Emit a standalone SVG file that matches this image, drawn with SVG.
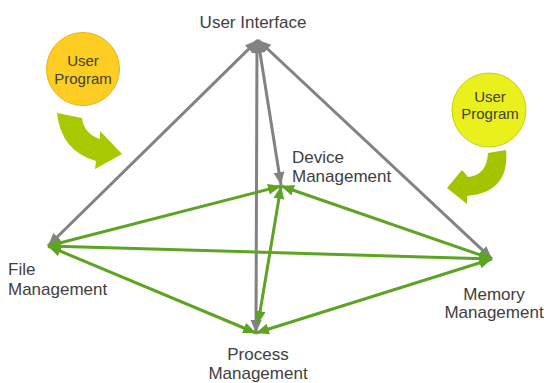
<svg xmlns="http://www.w3.org/2000/svg" width="548" height="383" viewBox="0 0 548 383">
  <style>
    .lbl { font-family: "Liberation Sans", Arial, sans-serif; font-size: 17px; fill: #404040; }
    .clbl { font-family: "Liberation Sans", Arial, sans-serif; font-size: 15px; fill: #404040; text-anchor: middle; }
    .gray { stroke: #828282; stroke-width: 3; fill: none; marker-start: url(#ag); marker-end: url(#ag); }
    .green { stroke: #5da423; stroke-width: 3; fill: none; marker-start: url(#an); marker-end: url(#an); }
  </style>
  <defs>
    <marker id="ag" markerUnits="userSpaceOnUse" markerWidth="14" markerHeight="12" refX="13" refY="5.5" orient="auto-start-reverse">
      <path d="M0,0 L13,5.5 L0,11 Z" fill="#828282"/>
    </marker>
    <marker id="an" markerUnits="userSpaceOnUse" markerWidth="14" markerHeight="12" refX="13" refY="5.5" orient="auto-start-reverse">
      <path d="M0,0 L13,5.5 L0,11 Z" fill="#5da423"/>
    </marker>
  </defs>

  <rect width="548" height="383" fill="#ffffff"/>

  <!-- user programs feeding in -->
  <g id="user-program-left">
    <circle cx="83" cy="69" r="36.5" fill="#fdcd23" stroke="#e8b410" stroke-width="1"/>
    <text class="clbl" x="83" y="66">User</text>
    <text class="clbl" x="83" y="84">Program</text>
    <path d="M57,113 L82,118 Q84,134 100,139 L100,131 L122,154 L95,169 L96,161 Q61,151 57,113 Z" fill="#a8c800"/>
  </g>
  <g id="user-program-right">
    <circle cx="489" cy="110" r="37" fill="#e9f01c" stroke="#c8d010" stroke-width="1"/>
    <text class="clbl" x="490" y="102">User</text>
    <text class="clbl" x="490" y="119">Program</text>
    <path d="M488,153 L506,150 Q510,192 467,196 L467,204 L447,188 L462,170 L468,177 Q487,175 488,153 Z" fill="#a4c400"/>
  </g>

  <!-- connectors -->
  <g id="connectors">
    <line class="gray" x1="258" y1="40" x2="48" y2="246"/>
    <line class="gray" x1="258" y1="40" x2="492" y2="259"/>
    <line class="gray" x1="257" y1="40" x2="256" y2="333"/>
    <line class="gray" x1="258" y1="40" x2="281" y2="185"/>
    <line class="green" x1="48" y1="246" x2="281" y2="186"/>
    <line class="green" x1="48" y1="246" x2="492" y2="259"/>
    <line class="green" x1="48" y1="246" x2="256" y2="333"/>
    <line class="green" x1="281" y1="186" x2="258" y2="324"/>
    <line class="green" x1="281" y1="186" x2="492" y2="259"/>
    <line class="green" x1="256" y1="333" x2="492" y2="259"/>
  </g>

  <!-- nodes -->
  <g id="user-interface">
    <text class="lbl" x="253" y="28" text-anchor="middle">User Interface</text>
  </g>
  <g id="device-management">
    <text class="lbl" x="292" y="163">Device</text>
    <text class="lbl" x="292" y="182">Management</text>
  </g>
  <g id="file-management">
    <text class="lbl" x="8" y="275">File</text>
    <text class="lbl" x="8" y="295">Management</text>
  </g>
  <g id="process-management">
    <text class="lbl" x="258" y="360" text-anchor="middle">Process</text>
    <text class="lbl" x="258" y="379" text-anchor="middle">Management</text>
  </g>
  <g id="memory-management">
    <text class="lbl" x="494" y="300" text-anchor="middle">Memory</text>
    <text class="lbl" x="494" y="318" text-anchor="middle">Management</text>
  </g>
</svg>
